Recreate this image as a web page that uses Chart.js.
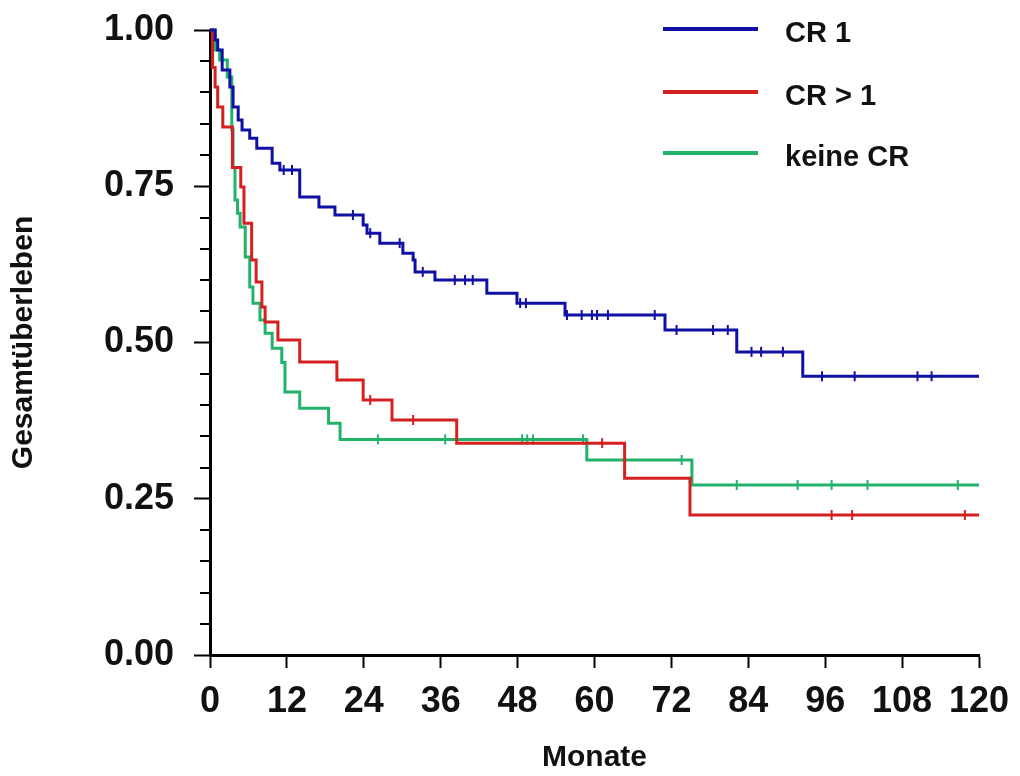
<!DOCTYPE html>
<html>
<head>
<meta charset="utf-8">
<script src="https://cdn.jsdelivr.net/npm/chart.js@4"></script>
<style>
  html, body { margin: 0; padding: 0; background: #fff; }
  #wrap { width: 1020px; height: 776px; }
</style>
</head>
<body>
<div id="wrap"><canvas id="kmChart" width="1020" height="776"></canvas></div>
<script>
// Kaplan-Meier: Gesamtüberleben nach CR-Status

const seriesLabels = ['CR 1', 'CR > 1', 'keine CR'];
const seriesColors = ['#1010a4', '#d42020', '#22b26a'];

// CR 1
const cr1Months = [0, 0.8, 1.2, 1.9, 3.1, 3.6, 4.4, 5.0, 6.2, 7.3, 9.7, 10.9, 14.0, 17.0, 19.5, 23.9, 24.5, 26.5, 30.1, 31.7, 32.0, 35.1, 43.2, 47.9, 55.4, 71.0, 82.2, 92.5, 120];
const cr1Surv   = [1.00, 0.984, 0.968, 0.936, 0.909, 0.877, 0.856, 0.840, 0.827, 0.811, 0.787, 0.776, 0.733, 0.717, 0.704, 0.688, 0.675, 0.659, 0.643, 0.632, 0.613, 0.600, 0.579, 0.563, 0.544, 0.520, 0.485, 0.446, 0.446];
const cr1CensMonths = [11.5, 12.8, 22.3, 25.0, 29.6, 33.2, 38.2, 39.8, 41.0, 48.4, 49.3, 55.7, 58.0, 59.6, 60.4, 62.1, 69.4, 72.8, 78.5, 80.8, 84.5, 86.0, 89.4, 95.5, 100.6, 110.4, 112.6];
const cr1CensSurv   = [0.776, 0.776, 0.704, 0.675, 0.659, 0.613, 0.600, 0.600, 0.600, 0.563, 0.563, 0.544, 0.544, 0.544, 0.544, 0.544, 0.544, 0.520, 0.520, 0.520, 0.485, 0.485, 0.485, 0.446, 0.446, 0.446, 0.446];

// CR > 1
const cr2Months = [0, 0.4, 0.8, 1.2, 2.0, 3.5, 4.8, 5.3, 6.5, 7.2, 8.1, 8.6, 10.6, 14.0, 19.8, 23.9, 28.4, 38.5, 64.7, 74.9, 120];
const cr2Surv   = [1.00, 0.94, 0.909, 0.877, 0.845, 0.780, 0.749, 0.691, 0.632, 0.597, 0.557, 0.533, 0.504, 0.469, 0.440, 0.408, 0.376, 0.339, 0.283, 0.224, 0.224];
const cr2CensMonths = [25.0, 31.7, 61.2, 97.0, 100.2, 117.8];
const cr2CensSurv   = [0.408, 0.376, 0.339, 0.224, 0.224, 0.224];

// keine CR
const noCrMonths = [0, 0.8, 1.5, 2.7, 3.4, 3.6, 3.9, 4.3, 4.7, 5.5, 6.2, 6.7, 7.8, 8.6, 9.7, 11.2, 11.7, 14.0, 18.5, 20.3, 58.8, 75.2, 120];
const noCrSurv   = [1.00, 0.968, 0.952, 0.925, 0.840, 0.780, 0.728, 0.707, 0.685, 0.637, 0.589, 0.563, 0.536, 0.515, 0.491, 0.468, 0.421, 0.395, 0.371, 0.345, 0.312, 0.272, 0.272];
const noCrCensMonths = [26.2, 36.7, 48.7, 49.5, 50.4, 58.2, 73.6, 82.2, 91.7, 97.0, 102.6, 116.7];
const noCrCensSurv   = [0.345, 0.345, 0.345, 0.345, 0.345, 0.345, 0.312, 0.272, 0.272, 0.272, 0.272, 0.272];

const xTicks = [0, 12, 24, 36, 48, 60, 72, 84, 96, 108, 120];
const yMajorTicks = [0, 0.25, 0.5, 0.75, 1.0];

const FONT = "'Liberation Sans', Arial, sans-serif";

function pts(xs, ys) {
  return xs.map((x, i) => ({ x: x, y: ys[i] }));
}

function curve(idx, xs, ys) {
  return {
    label: seriesLabels[idx],
    data: pts(xs, ys),
    borderColor: seriesColors[idx],
    borderWidth: 3,
    stepped: 'before',
    pointRadius: 0,
    fill: false,
    clip: 4
  };
}

function censored(idx, xs, ys) {
  return {
    label: seriesLabels[idx] + ' zensiert',
    data: pts(xs, ys),
    showLine: false,
    pointStyle: 'line',
    rotation: 90,
    pointRadius: 5,
    pointBorderWidth: 2,
    borderColor: seriesColors[idx],
    pointBorderColor: seriesColors[idx],
    clip: 6
  };
}

function isMajor(v) {
  return yMajorTicks.some(m => Math.abs(m - v) < 1e-6);
}

const minorTicks = {
  id: 'minor_ticks',
  afterDraw: (chart) => {
    const y = chart.scales.y;
    const ctx = chart.ctx;
    const left = chart.chartArea.left;
    ctx.save();
    ctx.strokeStyle = '#000';
    ctx.lineWidth = 2;
    y.ticks.forEach(t => {
      if (isMajor(t.value)) return;
      const py = Math.round(y.getPixelForValue(t.value));
      ctx.beginPath();
      ctx.moveTo(left - 10, py);
      ctx.lineTo(left, py);
      ctx.stroke();
    });
    ctx.restore();
  }
};

const sideLegend = {
  id: 'side_legend',
  afterDraw: (chart) => {
    const ctx = chart.ctx;
    const rows = [33, 96, 157];
    ctx.save();
    ctx.font = 'bold 29px ' + FONT;
    ctx.textBaseline = 'middle';
    ctx.textAlign = 'left';
    for (let i = 0; i < 3; i++) {
      const ds = chart.data.datasets[i];
      ctx.strokeStyle = ds.borderColor;
      ctx.lineWidth = 4;
      ctx.beginPath();
      ctx.moveTo(663, rows[i] - 4);
      ctx.lineTo(758, rows[i] - 4);
      ctx.stroke();
      ctx.fillStyle = '#111';
      ctx.fillText(ds.label, 785, rows[i] + 1);
    }
    ctx.restore();
  }
};

const ctx = document.getElementById('kmChart').getContext('2d');
new Chart(ctx, {
  type: 'line',
  data: {
    datasets: [
      curve(0, cr1Months, cr1Surv),
      curve(1, cr2Months, cr2Surv),
      curve(2, noCrMonths, noCrSurv),
      censored(0, cr1CensMonths, cr1CensSurv),
      censored(1, cr2CensMonths, cr2CensSurv),
      censored(2, noCrCensMonths, noCrCensSurv)
    ]
  },
  options: {
    responsive: false,
    animation: false,
    devicePixelRatio: 1,
    layout: { padding: { left: 0, right: 41, top: 30, bottom: 0 } },
    plugins: {
      legend: { display: false },
      tooltip: { enabled: false }
    },
    scales: {
      x: {
        type: 'linear',
        min: 0,
        max: 120,
        afterBuildTicks: (s) => { s.ticks = xTicks.map(v => ({ value: v })); },
        afterFit: (s) => { s.height = 121; s.paddingLeft = 0; s.paddingRight = 0; },
        border: { display: true, color: '#000', width: 3 },
        grid: { drawOnChartArea: false, drawTicks: true, tickLength: 13, tickColor: '#000', tickWidth: 2 },
        ticks: {
          padding: 12,
          color: '#111',
          font: { family: FONT, size: 36, weight: 'bold' },
          maxRotation: 0,
          autoSkip: false
        },
        title: {
          display: true,
          text: 'Monate',
          color: '#111',
          font: { family: FONT, size: 30, weight: 'bold' },
          padding: { top: 0, bottom: 0 }
        }
      },
      y: {
        min: 0,
        max: 1,
        afterFit: (s) => { s.width = 210; s.paddingTop = 0; s.paddingBottom = 0; },
        border: { display: true, color: '#000', width: 3 },
        grid: {
          drawOnChartArea: false,
          drawTicks: true,
          tickLength: 16,
          tickWidth: 2,
          tickColor: (c) => isMajor(c.tick.value) ? '#000' : 'rgba(0,0,0,0)'
        },
        ticks: {
          stepSize: 0.05,
          padding: 20,
          color: '#111',
          autoSkip: false,
          font: { family: FONT, size: 36, weight: 'bold' },
          callback: (v) => isMajor(v) ? Number(v).toFixed(2) : ''
        },
        title: {
          display: true,
          text: 'Gesamtüberleben',
          color: '#111',
          font: { family: FONT, size: 30, weight: 'bold' },
          padding: { top: 6, bottom: 0 }
        }
      }
    }
  },
  plugins: [minorTicks, sideLegend]
});
</script>
</body>
</html>
